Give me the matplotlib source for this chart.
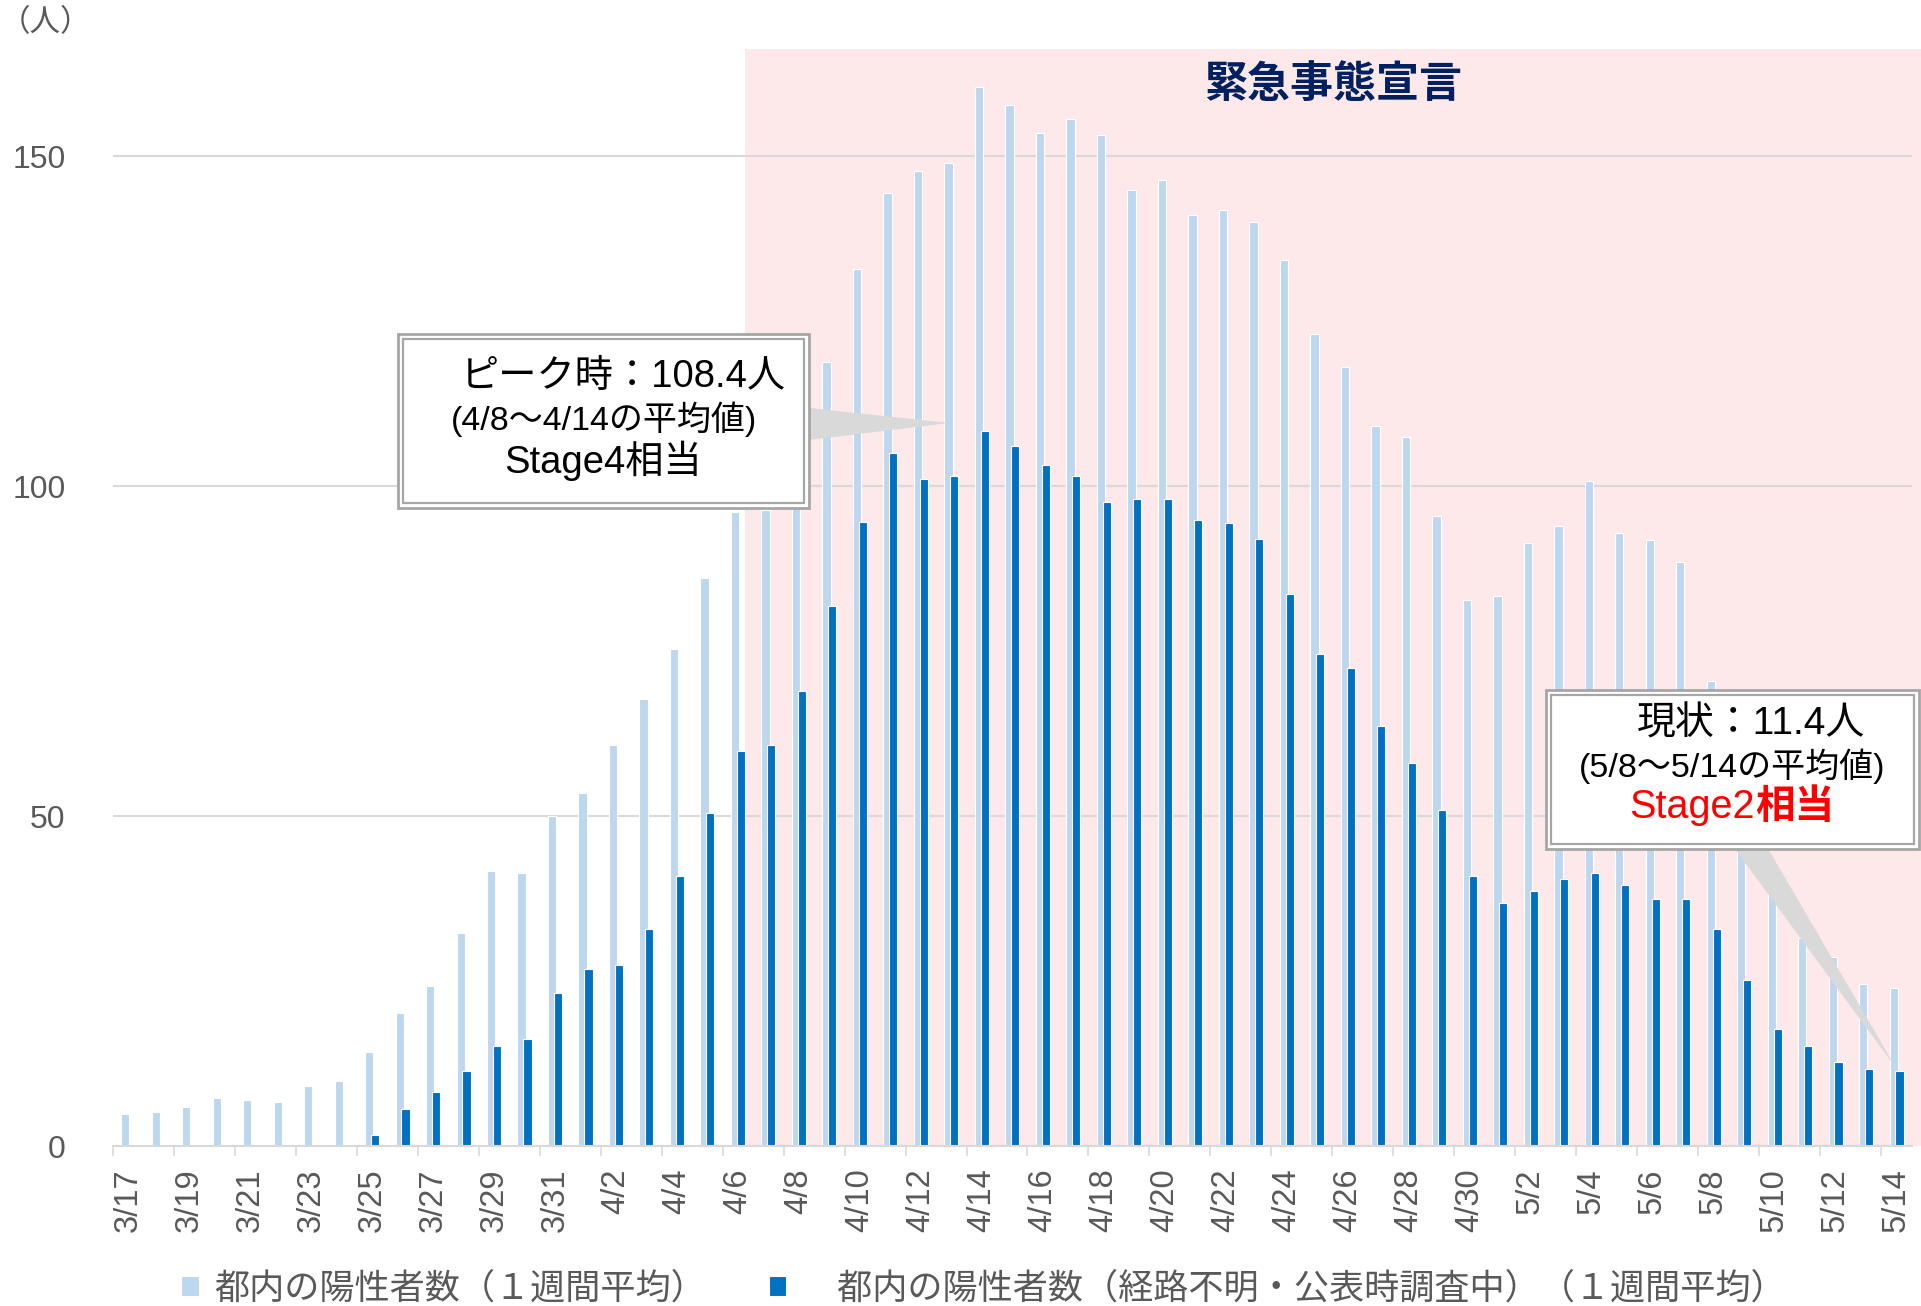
import numpy as np
import pandas as pd
import matplotlib
matplotlib.use("Agg")
import matplotlib.pyplot as plt
from matplotlib.patches import Rectangle, Polygon

plt.rcParams['font.family'] = ['Liberation Sans', 'Noto Sans CJK JP', 'DejaVu Sans']

W, H = 1921, 1306

# --- data (7-day averages) ---
dates = pd.date_range("2020-03-17", "2020-05-14")
labels = [f"{d.month}/{d.day}" for d in dates]

total_avg = [4.8, 5.2, 5.9, 7.2, 6.9, 6.7, 9.1, 9.9, 14.3, 20.1, 24.2, 32.2, 41.6, 41.3, 50.0,
             53.5, 60.8, 67.7, 75.3, 86.1, 96.0, 96.3, 107.7, 118.8, 132.9, 144.4, 147.8, 148.9,
             160.4, 157.8, 153.5, 155.6, 153.2, 144.8, 146.3, 141.1, 141.8, 140.0, 134.2, 123.0,
             118.0, 109.1, 107.4, 95.4, 82.7,
             83.3, 91.3, 93.9, 100.7, 92.9, 91.8, 88.5, 70.4, 53.0, 43.1, 31.5, 28.6, 24.5, 24.0]

unknown_avg = [0, 0, 0, 0, 0, 0, 0, 0, 1.7, 5.6, 8.2, 11.3, 15.2, 16.2, 23.2,
               26.8, 27.5, 32.9, 40.9, 50.4, 59.9, 60.8, 69.0, 81.8, 94.6, 105.0, 101.1, 101.5,
               108.4, 106.0, 103.2, 101.5, 97.6, 98.0, 98.0, 94.8, 94.4, 92.0, 83.6, 74.5,
               72.5, 63.6, 58.0, 50.9, 40.9,
               36.8, 38.7, 40.5, 41.4, 39.6, 37.4, 37.4, 32.9, 25.1, 17.7, 15.1, 12.8, 11.7, 11.4]

emergency_start = "4/6"
legend_labels = ["都内の陽性者数（１週間平均）", "　都内の陽性者数（経路不明・公表時調査中）（１週間平均）"]

LIGHT = '#BDD7EE'
DARK = '#0070C0'
GRAY_TXT = '#595959'
GRID = '#D9D9D9'


def px(x, y):
    return x / W, 1 - y / H


def callout_box(fig, x0, y0, x1, y1):
    # double grey border like the original text box
    outer = Rectangle(px(x0, y1), (x1 - x0) / W, (y1 - y0) / H, transform=fig.transFigure,
                      facecolor='white', edgecolor='#A6A6A6', linewidth=2.0, zorder=4)
    inner = Rectangle(px(x0 + 5, y1 - 5), (x1 - x0 - 10) / W, (y1 - y0 - 10) / H,
                      transform=fig.transFigure, facecolor='white', edgecolor='#A6A6A6',
                      linewidth=1.6, zorder=4)
    fig.add_artist(outer)
    fig.add_artist(inner)


def pointer(fig, pts):
    poly = Polygon([px(*p) for p in pts], closed=True, transform=fig.transFigure,
                   facecolor='#D9D9D9', edgecolor='none', zorder=3)
    fig.add_artist(poly)


fig = plt.figure(figsize=(W / 100, H / 100), dpi=100)
ax = fig.add_axes([112.7 / W, 1 - 1146 / H, (1911.8 - 112.7) / W, (1146 - 24) / H])

x = np.arange(len(labels))
ax.bar(x - 0.09, total_avg, width=0.27, color=LIGHT, edgecolor='white', linewidth=0.8, zorder=2,
       label=legend_labels[0])
ax.bar(x + 0.10, unknown_avg, width=0.27, color=DARK, edgecolor='white', linewidth=0.8, zorder=2.1,
       label=legend_labels[1])

# emergency declaration period
start = labels.index(emergency_start) + 0.22
ax.axvspan(start, len(labels) - 0.2, ymin=0, ymax=166.2 / 170, facecolor='#FDE8EA',
           linewidth=0, zorder=0.2, clip_on=False)

ax.set_xlim(-0.5, len(labels) - 0.5)
ax.set_ylim(0, 170)

ax.set_yticks([0, 50, 100, 150])
ax.tick_params(axis='y', length=0, pad=34, labelsize=23, labelcolor=GRAY_TXT)
ax.yaxis.grid(True, color=GRID, linewidth=1.5)
ax.set_axisbelow(True)

ax.set_xticks(np.arange(-0.5, len(labels), 2))
ax.set_xticklabels([])
ax.set_xticks(x[::2], labels[::2], minor=True)
ax.tick_params(axis='x', which='major', length=7.5, width=1.2, color=GRID)
ax.tick_params(axis='x', which='minor', length=0, pad=16, labelsize=23.5, labelcolor=GRAY_TXT,
               labelrotation=90)

for s in ['top', 'right', 'left']:
    ax.spines[s].set_visible(False)
ax.spines['bottom'].set_color(GRID)
ax.spines['bottom'].set_linewidth(1.5)

fig.text(0.0, 1 - 23 / H, '（人）', fontsize=22, color=GRAY_TXT, ha='left', va='center')

fig.text(*px(1333, 86), '緊急事態宣言', fontsize=31, fontweight='bold', color='#002060',
         ha='center', va='center')

# callouts
pointer(fig, [(800, 407), (800, 441), (949, 423)])
callout_box(fig, 398, 334, 809, 508)
fig.text(*px(623, 377), 'ピーク時：108.4人', fontsize=27.5, ha='center', va='center', zorder=5)
fig.text(*px(604, 419), '(4/8～4/14の平均値)', fontsize=24.5, ha='center', va='center', zorder=5)
fig.text(*px(603, 461), 'Stage4相当', fontsize=27.5, ha='center', va='center', zorder=5)

pointer(fig, [(1732, 845), (1766, 845), (1896, 1068)])
callout_box(fig, 1546, 690, 1919, 849)
fig.text(*px(1751, 724), '現状：11.4人', fontsize=28, ha='center', va='center', zorder=5)
fig.text(*px(1732, 766), '(5/8～5/14の平均値)', fontsize=24.5, ha='center', va='center', zorder=5)
fig.text(*px(1755, 807), 'Stage2', fontsize=28.5, color='#FF0000', ha='right', va='center', zorder=5)
fig.text(*px(1755, 807), '相当', fontsize=28.5, fontweight='bold', color='#FF0000', ha='left',
         va='center', zorder=5)

leg = ax.legend(loc='center left', bbox_to_anchor=px(181, 1289), bbox_transform=fig.transFigure,
                ncol=2, frameon=False, fontsize=25.3, handlelength=0.5, handleheight=0.5,
                handletextpad=0.45, columnspacing=1.78, borderpad=0, borderaxespad=0)
for t in leg.get_texts():
    t.set_color(GRAY_TXT)

fig.savefig('out.png', dpi=100)
